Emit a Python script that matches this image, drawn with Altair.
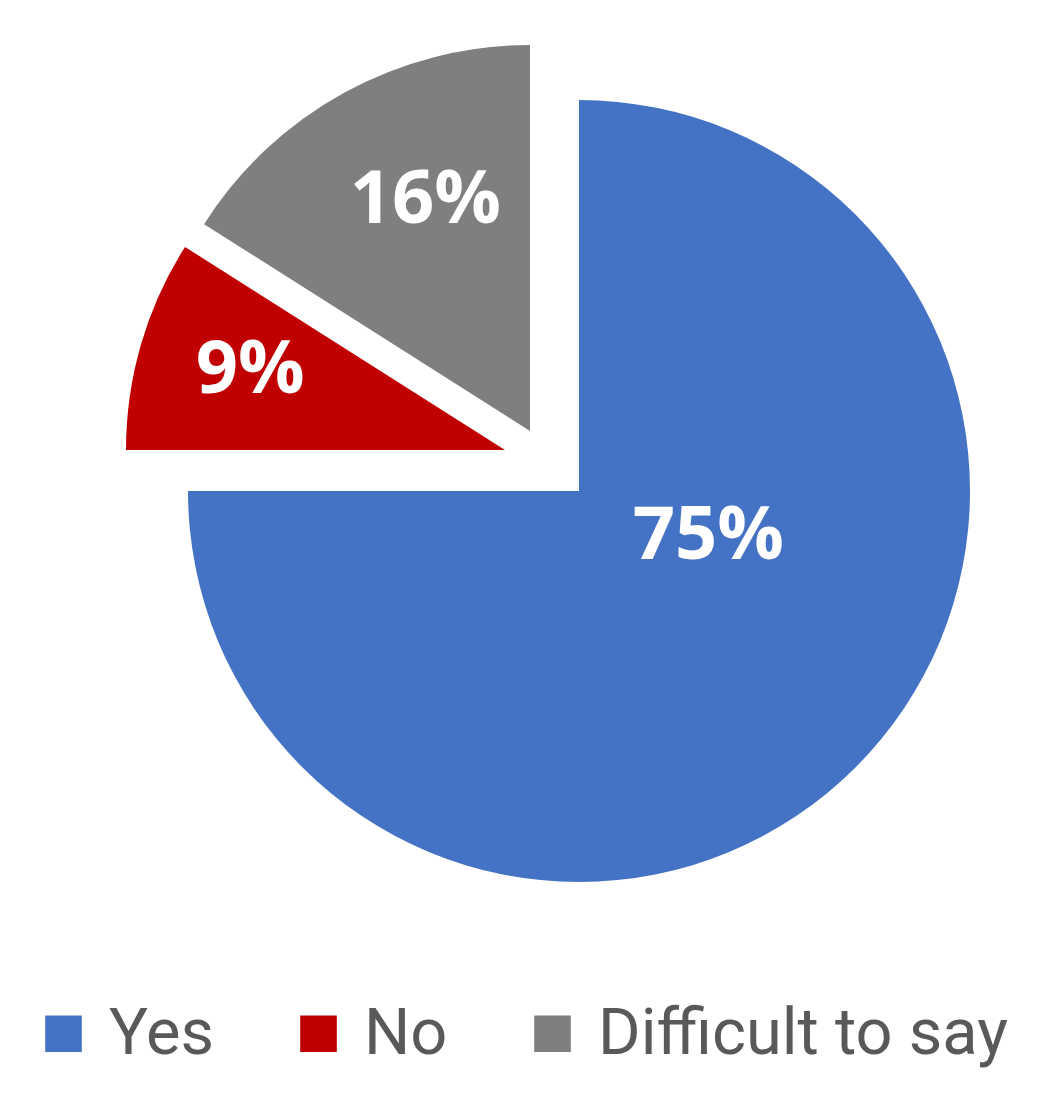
import altair as alt
import pandas as pd

# ---- data ----
categories = ["Yes", "No", "Difficult to say"]
values = [75, 9, 16]

# ---- style ----
colors = ["#4472C4", "#C00000", "#7F7F7F"]
explode = {"Yes": (0, 0), "No": (-74, -41), "Difficult to say": (-49, -60)}
radius = {"Yes": 391, "No": 379, "Difficult to say": 386}
label_radius = {"Yes": 136, "No": 268, "Difficult to say": 256}
label_shift = {"Yes": -0.075, "No": 0.005, "Difficult to say": 0.013}
CX, CY = 571, 483
TAU = 6.283185307179586

df = pd.DataFrame({"category": categories, "value": values,
                   "order": list(range(len(categories)))})

base = alt.Chart(df).transform_window(
    cum="sum(value)", sort=[alt.SortField("order")], frame=[None, 0]
).transform_joinaggregate(total="sum(value)").transform_calculate(
    end="datum.cum / datum.total",
    start="(datum.cum - datum.value) / datum.total",
    mid="(datum.cum - datum.value / 2) / datum.total",
    label="datum.value + '%'",
)

theta_scale = alt.Scale(domain=[0, 1], range=[0, TAU])
color_scale = alt.Scale(domain=categories, range=colors)
legend = alt.Legend(
    title=None, orient="none", legendX=23, legendY=993, direction="horizontal",
    symbolType="square", symbolSize=1340, symbolStrokeWidth=0, symbolOpacity=1,
    labelFont="Roboto", labelFontSize=65, labelColor="#595959",
    labelOffset=13, columnPadding=72, labelLimit=1000, padding=0,
)

layers = []
for cat in categories:
    dx, dy = explode[cat]
    arc = base.transform_filter(alt.datum.category == cat).mark_arc(
        radius=radius[cat], xOffset=dx, yOffset=dy, opacity=1
    ).encode(
        theta=alt.Theta("start:Q", scale=theta_scale, stack=False),
        theta2="end:Q",
        color=alt.Color("category:N", scale=color_scale, legend=legend),
        x=alt.value(CX),
        y=alt.value(CY),
    )
    layers.append(arc)

for cat in categories:
    dx, dy = explode[cat]
    txt = base.transform_filter(alt.datum.category == cat).transform_calculate(
        labpos=f"datum.mid + ({label_shift[cat]})"
    ).mark_text(
        radius=label_radius[cat], xOffset=dx, yOffset=dy + 4,
        font="Open Sans", fontWeight="bold", fontSize=74, color="white",
        align="center", baseline="middle",
    ).encode(
        theta=alt.Theta("labpos:Q", scale=theta_scale, stack=False),
        text="label:N",
        x=alt.value(CX),
        y=alt.value(CY),
    )
    layers.append(txt)

chart = alt.layer(*layers).properties(
    width=1022, height=1079, padding=0, autosize="none"
).configure_view(stroke=None)

chart.save("out.html", embed_options={"renderer": "svg", "actions": False})
